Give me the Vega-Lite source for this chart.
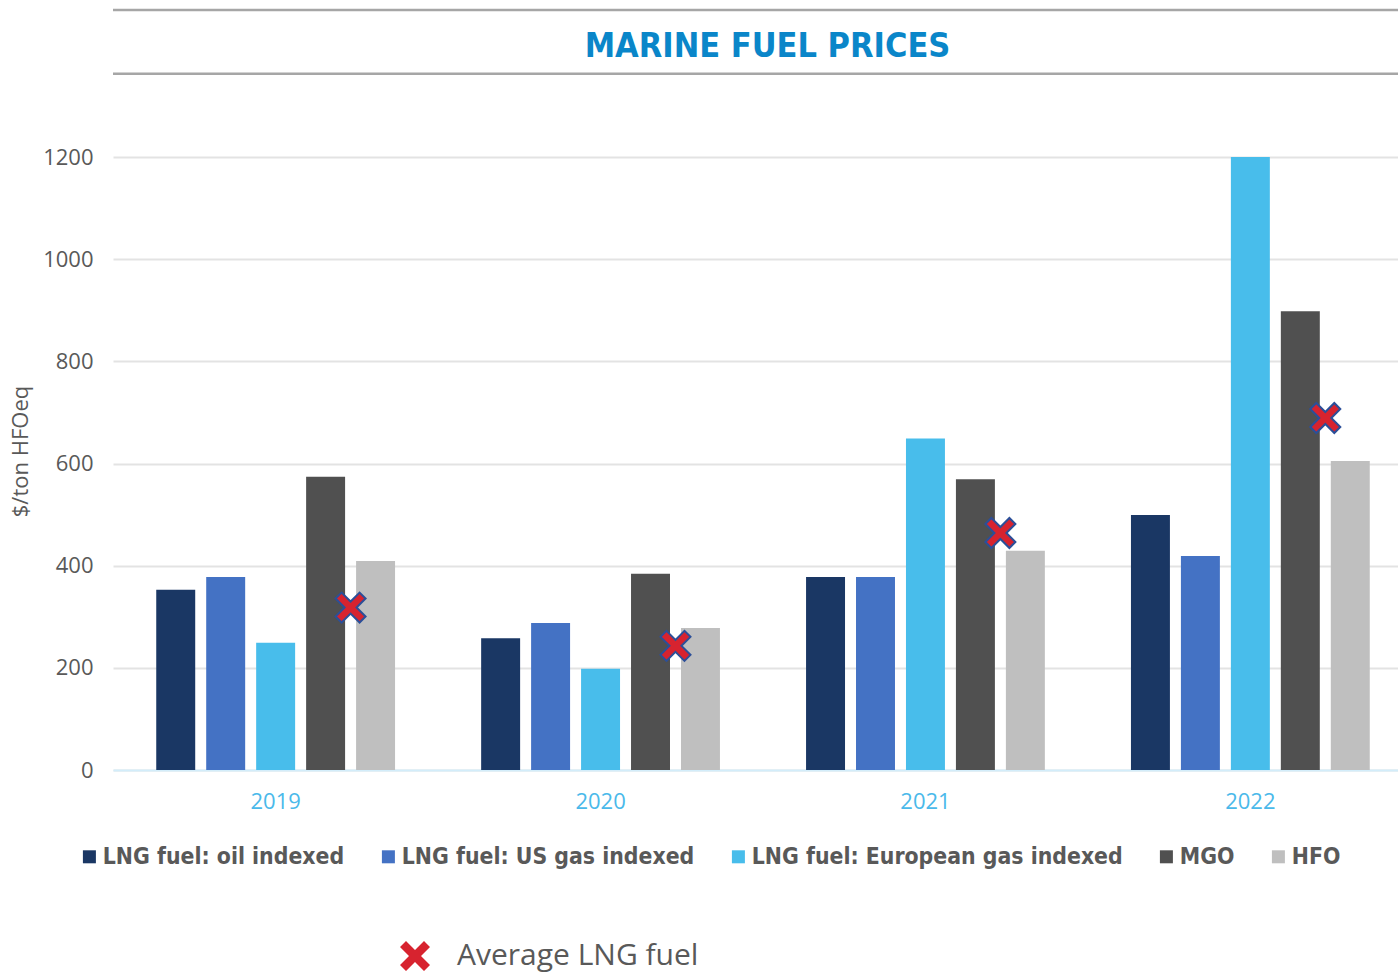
{
  "$schema": "https://vega.github.io/schema/vega-lite/v6.json",
  "autosize": "none",
  "width": 1285,
  "height": 613,
  "padding": {"left": 113, "top": 157, "right": 0, "bottom": 204},
  "background": "white",
  "config": {"view": {"stroke": null}},
  "title": {
    "text": "MARINE FUEL PRICES",
    "anchor": "middle",
    "frame": "group",
    "font": "Liberation Sans Narrow, DejaVu Sans Condensed, sans-serif",
    "fontSize": 34,
    "fontWeight": "bold",
    "color": "#0A86C9",
    "offset": -55,
    "dx": 12
  },
  "datasets": {
    "prices": [
      {"year": "2019", "series": "LNG fuel: oil indexed", "price": 353},
      {"year": "2019", "series": "LNG fuel: US gas indexed", "price": 378},
      {"year": "2019", "series": "LNG fuel: European gas indexed", "price": 249},
      {"year": "2019", "series": "MGO", "price": 574},
      {"year": "2019", "series": "HFO", "price": 409},
      {"year": "2020", "series": "LNG fuel: oil indexed", "price": 258},
      {"year": "2020", "series": "LNG fuel: US gas indexed", "price": 288},
      {"year": "2020", "series": "LNG fuel: European gas indexed", "price": 198},
      {"year": "2020", "series": "MGO", "price": 384},
      {"year": "2020", "series": "HFO", "price": 278},
      {"year": "2021", "series": "LNG fuel: oil indexed", "price": 378},
      {"year": "2021", "series": "LNG fuel: US gas indexed", "price": 378},
      {"year": "2021", "series": "LNG fuel: European gas indexed", "price": 649},
      {"year": "2021", "series": "MGO", "price": 569},
      {"year": "2021", "series": "HFO", "price": 429},
      {"year": "2022", "series": "LNG fuel: oil indexed", "price": 499},
      {"year": "2022", "series": "LNG fuel: US gas indexed", "price": 419},
      {"year": "2022", "series": "LNG fuel: European gas indexed", "price": 1200},
      {"year": "2022", "series": "MGO", "price": 898},
      {"year": "2022", "series": "HFO", "price": 605}
    ],
    "average": [
      {"year": "2019", "series": "Average LNG fuel", "price": 318},
      {"year": "2020", "series": "Average LNG fuel", "price": 243},
      {"year": "2021", "series": "Average LNG fuel", "price": 464},
      {"year": "2022", "series": "Average LNG fuel", "price": 689}
    ],
    "frame": [
      {"line": "title top", "level": 1488},
      {"line": "title bottom", "level": 1363}
    ]
  },
  "resolve": {"scale": {"xOffset": "independent"}},
  "layer": [
    {
      "data": {"name": "prices"},
      "mark": {"type": "bar"},
      "encoding": {
        "x": {
          "field": "year",
          "type": "nominal",
          "scale": {"paddingInner": 0.265, "paddingOuter": 0.11, "align": 0.605},
          "axis": {
            "title": null,
            "labelAngle": 0,
            "labelColor": "#4AB9EA",
            "labelFont": "Open Sans",
            "labelFontSize": 22,
            "labelPadding": 21,
            "ticks": false,
            "domain": true,
            "domainColor": "#D3EDFA",
            "domainWidth": 2,
            "grid": false
          }
        },
        "xOffset": {
          "field": "series",
          "type": "nominal",
          "scale": {
            "domain": ["LNG fuel: oil indexed", "LNG fuel: US gas indexed", "LNG fuel: European gas indexed", "MGO", "HFO"],
            "paddingInner": 0.22,
            "paddingOuter": 0
          }
        },
        "y": {
          "field": "price",
          "type": "quantitative",
          "scale": {"domain": [0, 1200], "nice": false},
          "axis": {
            "values": [0, 200, 400, 600, 800, 1000, 1200],
            "format": "d",
            "title": "$/ton HFOeq",
            "titleFont": "Open Sans",
            "titleFontSize": 22,
            "titleFontWeight": "normal",
            "titleColor": "#595959",
            "titlePadding": 10,
            "titleY": 294,
            "labelFont": "Open Sans",
            "labelFontSize": 22,
            "labelColor": "#595959",
            "labelPadding": 20,
            "ticks": false,
            "domain": false,
            "gridColor": "#E3E3E3",
            "gridWidth": 2
          }
        },
        "color": {
          "field": "series",
          "type": "nominal",
          "scale": {
            "domain": ["LNG fuel: oil indexed", "LNG fuel: US gas indexed", "LNG fuel: European gas indexed", "MGO", "HFO"],
            "range": ["#1A3764", "#4472C4", "#48BDEB", "#505050", "#BFBFBF"]
          },
          "legend": {
            "title": null,
            "orient": "none",
            "direction": "horizontal",
            "columns": 5,
            "legendX": -35,
            "legendY": 688,
            "symbolType": "square",
            "symbolSize": 169,
            "symbolStrokeWidth": 0,
            "labelFont": "Liberation Sans Narrow, DejaVu Sans Condensed, sans-serif",
            "labelFontSize": 22.8,
            "labelFontWeight": "bold",
            "labelColor": "#595959",
            "labelOffset": 2,
            "columnPadding": 32,
            "labelLimit": 500
          }
        }
      }
    },
    {
      "data": {"name": "average"},
      "mark": {
        "type": "point",
        "filled": true,
        "fill": "#D7232F",
        "stroke": "#2B4F99",
        "strokeWidth": 2,
        "opacity": 1,
        "size": 900
      },
      "encoding": {
        "x": {"field": "year", "type": "nominal"},
        "xOffset": {
          "field": "series",
          "type": "nominal",
          "scale": {
            "type": "point",
            "domain": ["LNG fuel: oil indexed", "gap1", "LNG fuel: US gas indexed", "gap2", "LNG fuel: European gas indexed", "gap3", "MGO", "Average LNG fuel", "HFO"],
            "padding": 0.78
          }
        },
        "y": {"field": "price", "type": "quantitative"},
        "shape": {
          "field": "series",
          "type": "nominal",
          "scale": {
            "domain": ["Average LNG fuel"],
            "range": ["M-1,-0.6L-0.6,-1L0,-0.4L0.6,-1L1,-0.6L0.4,0L1,0.6L0.6,1L0,0.4L-0.6,1L-1,0.6L-0.4,0Z"]
          },
          "legend": {
            "title": null,
            "orient": "none",
            "legendX": 286,
            "legendY": 783,
            "symbolSize": 900,
            "symbolFillColor": "#D7232F",
            "symbolStrokeColor": "#2B4F99",
            "symbolStrokeWidth": 2,
            "labelFont": "Open Sans",
            "labelFontSize": 30,
            "labelColor": "#595959",
            "labelOffset": 26,
            "labelLimit": 500
          }
        }
      }
    },
    {
      "data": {"name": "frame"},
      "mark": {"type": "rule", "color": "#A6A6A6", "strokeWidth": 2.5, "clip": false},
      "encoding": {
        "y": {"field": "level", "type": "quantitative"}
      }
    }
  ]
}
